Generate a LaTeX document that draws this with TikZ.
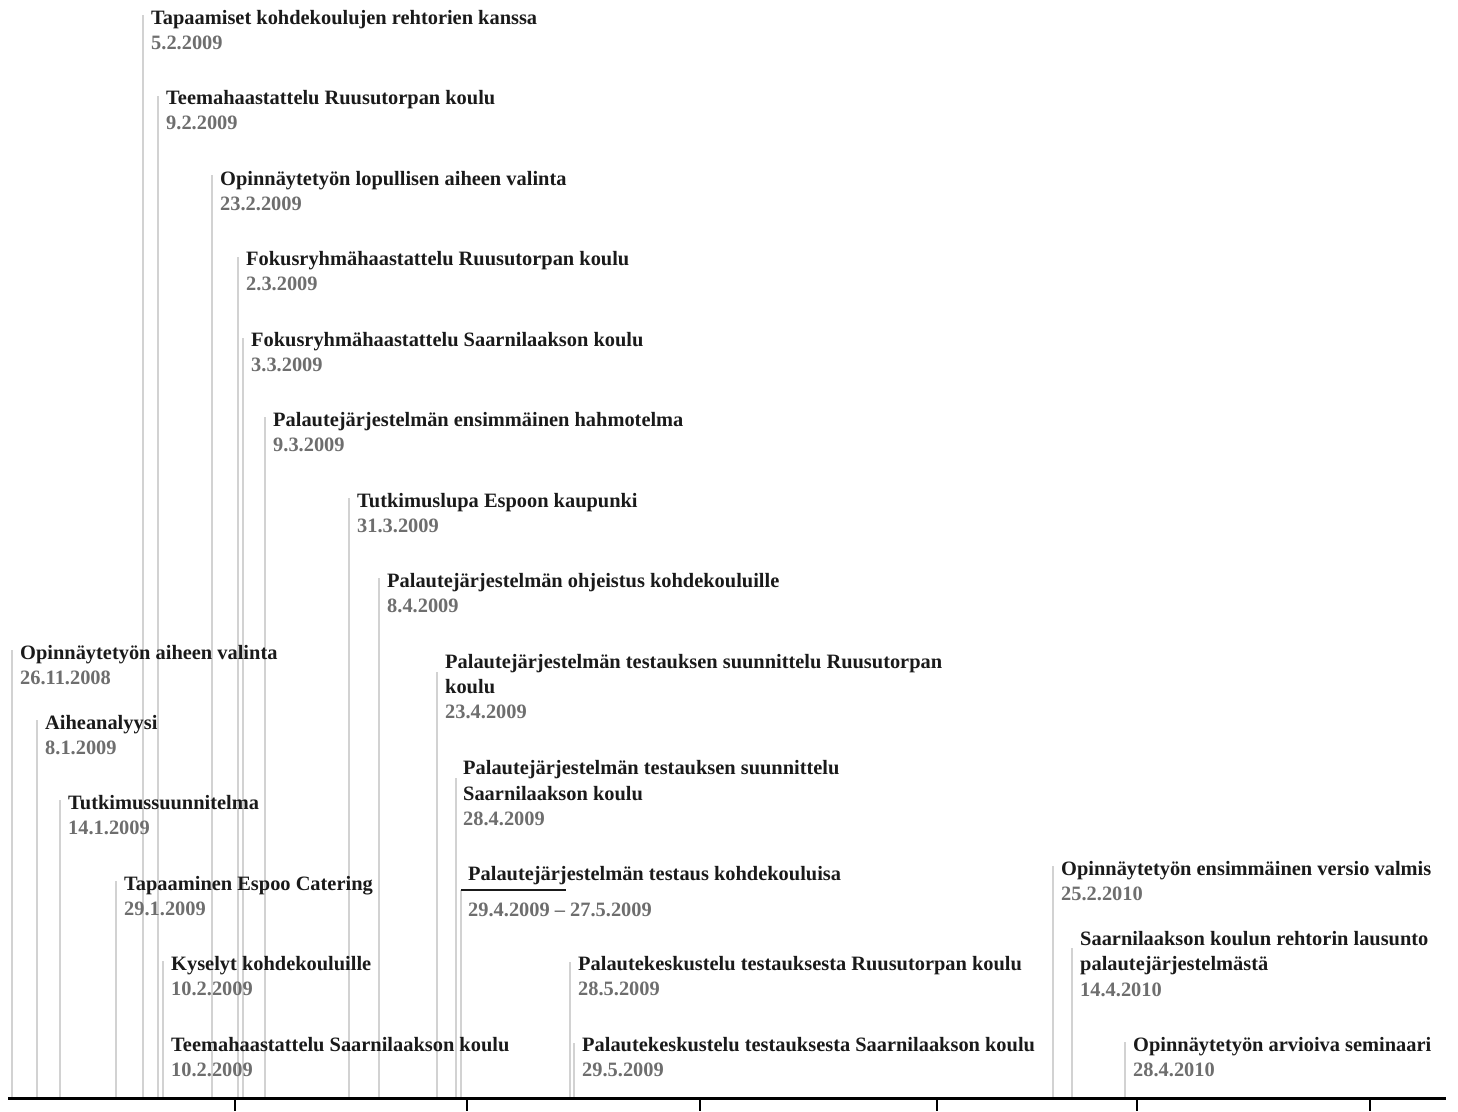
\documentclass[tikz,border=0pt]{standalone}
\usepackage{fontspec}
\setmainfont{Liberation Serif}
\definecolor{titlecol}{HTML}{1A1A1A}
\definecolor{datecol}{HTML}{6E6E6E}
\definecolor{stemcol}{HTML}{D2D2D2}
\pgfdeclarelayer{bg}
\pgfsetlayers{bg,main}
\tikzset{
  ttl/.style={anchor=base west, inner sep=0pt, text=titlecol,
    font=\bfseries\fontsize{20.4}{25}\selectfont},
  dte/.style={ttl, text=datecol},
  stem/.style={draw=stemcol, line width=1.8pt},
  axisline/.style={draw=black, line width=3pt},
  tick/.style={draw=black, line width=2pt},
}
% one event: id, stem x, stem top, title baseline, title, date
\newcommand\tlevent[6]{%
  \node[ttl] (t#1) at (#2+8,#4) {#5};
  \node[dte] (d#1) at (#2+8,#4+25) {#6};
  \coordinate (top#1) at (#2,#3);
  \coordinate (foot#1) at (#2,1098);
  \begin{pgfonlayer}{bg}\draw[stem] (foot#1) -- (top#1);\end{pgfonlayer}%
}
\begin{document}
\begin{tikzpicture}[x=1pt,y=-1pt]
\useasboundingbox (0,0) rectangle (1458,1111);

% events drawn from the top of the picture down
\tlevent{1}{143}{15}{24}{Tapaamiset kohdekoulujen rehtorien kanssa}{5.2.2009}
\tlevent{2}{158}{96}{104}{Teemahaastattelu Ruusutorpan koulu}{9.2.2009}
\tlevent{3}{212}{175}{185}{Opinnäytetyön lopullisen aiheen valinta}{23.2.2009}
\tlevent{4}{238}{257}{265}{Fokusryhmähaastattelu Ruusutorpan koulu}{2.3.2009}
\tlevent{5}{243}{338}{346}{Fokusryhmähaastattelu Saarnilaakson koulu}{3.3.2009}
\tlevent{6}{265}{417}{426}{Palautejärjestelmän ensimmäinen hahmotelma}{9.3.2009}
\tlevent{7}{349}{498}{507}{Tutkimuslupa Espoon kaupunki}{31.3.2009}
\tlevent{8}{379}{578}{587}{Palautejärjestelmän ohjeistus kohdekouluille}{8.4.2009}
\tlevent{9}{12}{650}{659}{Opinnäytetyön aiheen valinta}{26.11.2008}
\tlevent{11}{37}{720}{729}{Aiheanalyysi}{8.1.2009}
\tlevent{13}{60}{800}{809}{Tutkimussuunnitelma}{14.1.2009}
\tlevent{15}{116}{881}{890}{Tapaaminen Espoo Catering}{29.1.2009}
\tlevent{16}{163}{961}{970}{Kyselyt kohdekouluille}{10.2.2009}
\tlevent{17}{163}{1042}{1051}{Teemahaastattelu Saarnilaakson koulu}{10.2.2009}
\tlevent{18}{570}{962}{970}{Palautekeskustelu testauksesta Ruusutorpan koulu}{28.5.2009}
\tlevent{19}{574}{1043}{1051}{Palautekeskustelu testauksesta Saarnilaakson koulu}{29.5.2009}
\tlevent{20}{1053}{866}{875}{Opinnäytetyön ensimmäinen versio valmis}{25.2.2010}
\tlevent{22}{1125}{1042}{1051}{Opinnäytetyön arvioiva seminaari}{28.4.2010}

% two-line titles
\node[ttl] (t10) at (445,668) {Palautejärjestelmän testauksen suunnittelu Ruusutorpan};
\node[ttl] (t10b) at (445,693) {koulu};
\node[dte] (d10) at (445,718) {23.4.2009};
\coordinate (top10) at (437,672);
\coordinate (foot10) at (437,1098);

\node[ttl] (t12) at (463,774) {Palautejärjestelmän testauksen suunnittelu};
\node[ttl] (t12b) at (463,800) {Saarnilaakson koulu};
\node[dte] (d12) at (463,825) {28.4.2009};
\coordinate (top12) at (456,778);
\coordinate (foot12) at (456,1098);

\node[ttl] (t21) at (1080,945) {Saarnilaakson koulun rehtorin lausunto};
\node[ttl] (t21b) at (1080,970) {palautejärjestelmästä};
\node[dte] (d21) at (1080,996) {14.4.2010};
\coordinate (top21) at (1072,948);
\coordinate (foot21) at (1072,1098);

% the testing period, marked with a short bar under its title
\node[ttl] (t14) at (468,880) {Palautejärjestelmän testaus kohdekouluisa};
\node[dte] (d14) at (468,916) {29.4.2009 -- 27.5.2009};
\coordinate (top14) at (461,890);
\coordinate (bar14) at (566,890);
\coordinate (foot14) at (461,1098);
\draw[draw=titlecol, line width=2pt] (top14) -- (bar14);

\begin{pgfonlayer}{bg}
  \draw[stem] (foot10) -- (top10);
  \draw[stem] (foot12) -- (top12);
  \draw[stem] (foot21) -- (top21);
  \draw[stem] (foot14) -- (top14);
\end{pgfonlayer}

% time axis with its ticks
\coordinate (axL) at (8,1098);
\coordinate (axR) at (1446,1098);
\draw[axisline] (axL) -- (axR);
\foreach \k/\tx in {1/235,2/467,3/700,4/937,5/1137,6/1370}{
  \coordinate (tk\k) at (\tx,1098);
  \coordinate (tkb\k) at (\tx,1111);
  \draw[tick] (tk\k) -- (tkb\k);
}
\end{tikzpicture}
\end{document}
